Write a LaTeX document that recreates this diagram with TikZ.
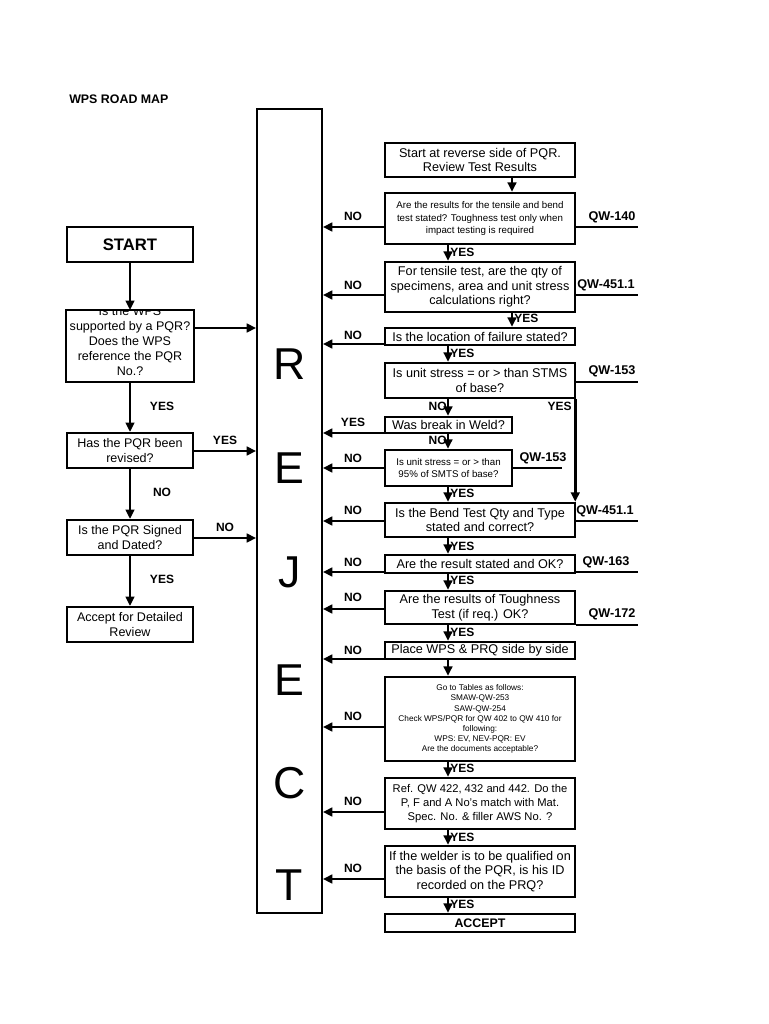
\documentclass[tikz,border=0pt]{standalone}
\usepackage{fontspec}
\setmainfont{Liberation Sans}
\usetikzlibrary{arrows.meta}
\newcommand{\pbox}[7][]{\node[box,#1,minimum width={(#4-#2)*0.75pt},minimum height={(#5-#3)*0.75pt}] (#6) at ({(#2+#4)/2},{(#3+#5)/2}) {#7};}
\begin{document}
\begin{tikzpicture}[x=0.75pt,y=-0.75pt,
  box/.style={draw,line width=1.9pt,inner sep=0pt,align=center,font=\fontsize{9.5}{10.9}\selectfont},
  lbox/.style={line width=1.6pt,font=\fontsize{9.4}{11.2}\selectfont},
  ltext/.style={inner sep=0pt,align=center,font=\fontsize{9.4}{11.2}\selectfont},
  lab/.style={inner sep=0pt,font=\fontsize{9}{10}\selectfont\bfseries},
  qw/.style={inner sep=0pt,font=\fontsize{9.5}{10}\selectfont\bfseries},
  big/.style={inner sep=0pt,font=\fontsize{33.5}{36}\selectfont},
  arr/.style={line width=2pt,-{Triangle[length=7pt,width=6.5pt]}},
  qline/.style={line width=0.8pt}]
\useasboundingbox (0,0) rectangle (768,1024);

% title
\node[lab,anchor=west,font=\fontsize{9.3}{10}\selectfont\bfseries] (title) at (69,99) {WPS ROAD MAP};

% REJECT column
\pbox[line width=1.4pt]{257}{109}{322}{913}{rej}{}
\node[big] (lR) at (289.5,364) {R};
\node[big] (lE1) at (289.5,468) {E};
\node[big] (lJ) at (289.5,572) {J};
\node[big] (lE2) at (289.5,680) {E};
\node[big] (lC) at (289.5,783) {C};
\node[big] (lT) at (289.5,885) {T};

% left column
\pbox[lbox,font=\fontsize{12.5}{14}\selectfont\bfseries]{67}{227}{193}{262}{start}{START}
\pbox[lbox,draw=none]{67}{311}{193}{381}{q1}{}
\begin{scope}
\clip (q1.north west) rectangle (q1.south east);
\node[ltext] (q1t) at (130,341) {Is the WPS\\supported by a PQR?\\Does the WPS\\reference the PQR\\No.?};
\end{scope}
\draw[line width=1.6pt] (q1.north west) rectangle (q1.south east);
\pbox[lbox]{67}{433}{193}{468}{q2}{Has the PQR been\\revised?}
\pbox[lbox]{67}{520}{193}{555}{q3}{Is the PQR Signed\\and Dated?}
\pbox[lbox]{67}{607}{193}{642}{q4}{Accept for Detailed\\Review}

\draw[arr,line width=1.7pt] (start.south) -- (q1.north);
\draw[arr,line width=1.7pt] (q1.south) -- (q2.north);
\draw[arr,line width=1.7pt] (q2.south) -- (q3.north);
\draw[arr,line width=1.7pt] (q3.south) -- (q4.north);
\draw[arr] (q1.east |- 0,328) -- (rej.west |- 0,328);
\draw[arr] (q2.east |- 0,451) -- (rej.west |- 0,451);
\draw[arr] (q3.east |- 0,538) -- (rej.west |- 0,538);
\node[lab] (ly1) at (162,406) {YES};
\node[lab] (ly2) at (225,440) {YES};
\node[lab] (ln1) at (162,492) {NO};
\node[lab] (ln2) at (225,527) {NO};
\node[lab] (ly3) at (162,579) {YES};

% right column
\pbox{385}{143}{575}{177}{r1}{Start at reverse side of PQR.\\Review Test Results}
\pbox[font=\fontsize{7.3}{9.1}\selectfont]{385}{193}{575}{244}{r2}{Are the results for the tensile and bend\\test stated? Toughness test only when\\impact testing is required}
\pbox{385}{262}{575}{312}{r3}{For tensile test, are the qty of\\specimens, area and unit stress\\calculations right?}
\pbox{385}{328}{575}{345}{r4}{Is the location of failure stated?}
\pbox{385}{363}{575}{398}{r5}{Is unit stress = or > than STMS\\of base?}
\pbox{385}{417}{512}{433}{r6}{Was break in Weld?}
\pbox[font=\fontsize{7.3}{9.5}\selectfont]{385}{450}{512}{486}{r7}{Is unit stress = or > than\\95\% of SMTS of base?}
\pbox{385}{503}{575}{537}{r8}{Is the Bend Test Qty and Type\\stated and correct?}
\pbox{385}{555}{575}{573}{r9}{Are the result stated and OK?}
\pbox{385}{591}{575}{624}{r10}{Are the results of Toughness\\Test (if req.) OK?}
\pbox{385}{642}{575}{659}{r11}{Place WPS \& PRQ side by side}
\pbox[font=\fontsize{6.2}{7.6}\selectfont]{385}{677}{575}{761}{r12}{Go to Tables as follows:\\SMAW-QW-253\\SAW-QW-254\\Check WPS/PQR for QW 402 to QW 410 for\\following:\\WPS: EV, NEV-PQR: EV\\Are the documents acceptable?}
\pbox[font=\fontsize{8.4}{10.3}\selectfont]{385}{778}{575}{829}{r13}{Ref. QW 422, 432 and 442. Do the\\P, F and A No's match with Mat.\\Spec. No. \& filler AWS No. ?}
\pbox{385}{846}{575}{897}{r14}{If the welder is to be qualified on\\the basis of the PQR, is his ID\\recorded on the PRQ?}
\pbox[font=\fontsize{9.3}{10}\selectfont\bfseries]{385}{914}{575}{932}{r15}{ACCEPT}

% downward arrows
\draw[arr] (r1.south -| 512,0) -- (r2.north -| 512,0);
\draw[arr] (r2.south -| 448,0) -- (r3.north -| 448,0);
\draw[arr] (r3.south -| 512,0) -- (r4.north -| 512,0);
\draw[arr] (r4.south -| 448,0) -- (r5.north -| 448,0);
\draw[arr] (r5.south -| 448,0) -- (r6.north -| 448,0);
\draw[arr] (r6.south -| 448,0) -- (r7.north -| 448,0);
\draw[arr] (r7.south -| 448,0) -- (r8.north -| 448,0);
\draw[arr] (r8.south -| 448,0) -- (r9.north -| 448,0);
\draw[arr] (r9.south -| 448,0) -- (r10.north -| 448,0);
\draw[arr] (r10.south -| 448,0) -- (r11.north -| 448,0);
\draw[arr] (r11.south -| 448,0) -- (r12.north -| 448,0);
\draw[arr] (r12.south -| 448,0) -- (r13.north -| 448,0);
\draw[arr] (r13.south -| 448,0) -- (r14.north -| 448,0);
\draw[arr] (r14.south -| 448,0) -- (r15.north -| 448,0);
\draw[arr] ([xshift=-0.75pt]r5.south east) -- ([xshift=-0.75pt]r8.north east);

% labels along the downward arrows
\node[lab,anchor=west] (y1) at (450,252) {YES};
\node[lab,anchor=west] (y2) at (514,318) {YES};
\node[lab,anchor=west] (y3) at (450,353) {YES};
\node[lab,anchor=east] (n1) at (447,406) {NO};
\node[lab,anchor=east] (y4) at (572,406) {YES};
\node[lab,anchor=east] (n2) at (447,440) {NO};
\node[lab,anchor=west] (y5) at (450,493) {YES};
\node[lab,anchor=west] (y6) at (450,546) {YES};
\node[lab,anchor=west] (y7) at (450,580) {YES};
\node[lab,anchor=west] (y8) at (450,632) {YES};
\node[lab,anchor=west] (y9) at (450,768) {YES};
\node[lab,anchor=west] (y10) at (450,837) {YES};
\node[lab,anchor=west] (y11) at (450,904) {YES};

% arrows to REJECT
\draw[arr] (r2.west |- 0,227) -- (rej.east |- 0,227);
\draw[arr] (r3.west |- 0,295) -- (rej.east |- 0,295);
\draw[arr] (r4.west |- 0,344) -- (rej.east |- 0,344);
\draw[arr] (r6.west |- 0,433) -- (rej.east |- 0,433);
\draw[arr] (r7.west |- 0,468) -- (rej.east |- 0,468);
\draw[arr] (r8.west |- 0,521) -- (rej.east |- 0,521);
\draw[arr] (r9.west |- 0,572) -- (rej.east |- 0,572);
\draw[arr] (r10.west |- 0,609) -- (rej.east |- 0,609);
\draw[arr] (r11.west |- 0,659) -- (rej.east |- 0,659);
\draw[arr] (r12.west |- 0,727) -- (rej.east |- 0,727);
\draw[arr] (r13.west |- 0,812) -- (rej.east |- 0,812);
\draw[arr] (r14.west |- 0,879) -- (rej.east |- 0,879);
\node[lab] (m1) at (353,216) {NO};
\node[lab] (m2) at (353,285) {NO};
\node[lab] (m3) at (353,335) {NO};
\node[lab] (m4) at (353,422) {YES};
\node[lab] (m5) at (353,458) {NO};
\node[lab] (m6) at (353,510) {NO};
\node[lab] (m7) at (353,562) {NO};
\node[lab] (m8) at (353,597) {NO};
\node[lab] (m9) at (353,650) {NO};
\node[lab] (m10) at (353,716) {NO};
\node[lab] (m11) at (353,801) {NO};
\node[lab] (m12) at (353,868) {NO};

% code references
\node[qw] (c1) at (612,217) {QW-140};
\draw[qline] (r2.east |- 0,227) -- (638,227);
\node[qw] (c2) at (606,285) {QW-451.1};
\draw[qline] (r3.east |- 0,295) -- (638,295);
\node[qw] (c3) at (612,371) {QW-153};
\draw[qline] (r5.east |- 0,382) -- (638,382);
\node[qw] (c4) at (543,458) {QW-153};
\draw[qline] (r7.east |- 0,468) -- (562,468);
\node[qw] (c5) at (605,511) {QW-451.1};
\draw[qline] (r8.east |- 0,521) -- (638,521);
\node[qw] (c6) at (606,562) {QW-163};
\draw[qline] (r9.east |- 0,572) -- (638,572);
\node[qw] (c7) at (612,614) {QW-172};
\draw[qline] (r10.east |- 0,625) -- (638,625);
\end{tikzpicture}
\end{document}
